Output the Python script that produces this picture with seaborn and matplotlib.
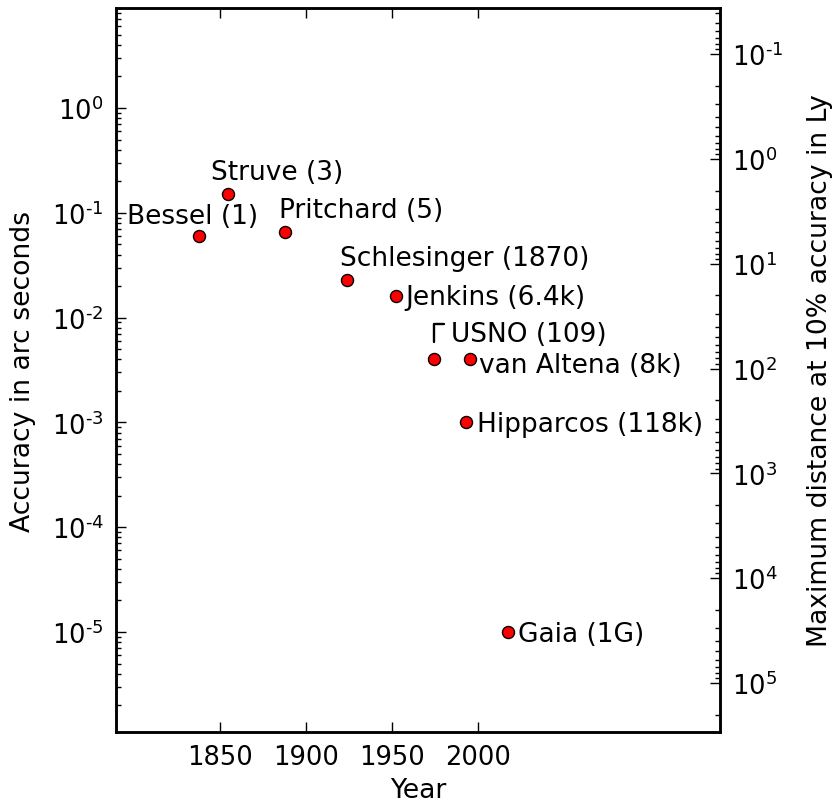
import matplotlib
matplotlib.use("Agg")
import matplotlib.pyplot as plt
import matplotlib.ticker as mticker
import seaborn as sns
import pandas as pd
import numpy as np

# ---- data ----
names = ["Bessel (1)", "Struve (3)", "Pritchard (5)", "Schlesinger (1870)",
         "Jenkins (6.4k)", "USNO (109)", "van Altena (8k)", "Hipparcos (118k)",
         "Gaia (1G)"]
years = [1838, 1855, 1888, 1924, 1952, 1974, 1995, 1993, 2017]
accuracy = [0.06, 0.15, 0.065, 0.023, 0.016, 0.004, 0.004, 0.001, 1e-5]
xticks = [1850, 1900, 1950, 2000]

# ---- layout (label offsets in pixels, text anchored left/baseline) ----
label_offsets = {
    "Bessel (1)": (-72, 13),
    "Struve (3)": (-17, 15),
    "Pritchard (5)": (-6, 15),
    "Schlesinger (1870)": (-7, 15),
    "Jenkins (6.4k)": (10, -8),
    "USNO (109)": (17, 18),
    "van Altena (8k)": (9, -13),
    "Hipparcos (118k)": (11, -9),
    "Gaia (1G)": (10, -9),
}

df = pd.DataFrame({"name": names, "year": years, "acc": accuracy})

sns.set_theme(style="white")
plt.rcParams["font.family"] = ["DejaVu Sans"]
plt.rcParams["axes.unicode_minus"] = False
plt.rcParams["mathtext.default"] = "regular"
for k in ["text.color", "axes.labelcolor", "xtick.color", "ytick.color",
          "axes.edgecolor"]:
    plt.rcParams[k] = "black"

W, H, DPI = 832, 812, 100
fig = plt.figure(figsize=(W / DPI, H / DPI), dpi=DPI)
ax = fig.add_axes([116 / W, 1 - 733 / H, (720 - 116) / W, (733 - 9) / H])

sns.scatterplot(data=df, x="year", y="acc", ax=ax, s=75, color="#ff0000",
                edgecolor="black", linewidth=1.0, zorder=3, legend=False)

ax.set_yscale("log")
ylo, yhi = 1e-5 / 9, 9
ax.set_ylim(ylo, yhi)
ax.set_xlim(1790, 2140)
ax.set_xticks(xticks)
ax.set_xticklabels([str(t) for t in xticks])


def log_fmt(v, pos=None):
    e = int(round(np.log10(v)))
    if e < 0:
        return r"$10^{\text{-}%d}$" % (-e)
    return r"$10^{%d}$" % e


fs_tick = 18.5
fs_lab = 19.2
fs_ann = 19

for sp in ax.spines.values():
    sp.set_linewidth(1.8)
    sp.set_color("black")

ax.tick_params(axis="x", which="both", direction="in", top=True, bottom=True,
               length=7, width=1.0, labelsize=fs_tick, pad=9)
ax.tick_params(axis="y", which="major", direction="in", left=True, right=False,
               length=7, width=1.0, labelsize=fs_tick, pad=9)
ax.tick_params(axis="y", which="minor", direction="in", left=True, right=False,
               length=3.5, width=1.0)
ax.yaxis.set_major_locator(mticker.LogLocator(base=10, numticks=20))
ax.yaxis.set_minor_locator(mticker.LogLocator(base=10, subs=np.arange(2, 10), numticks=20))
ax.yaxis.set_major_formatter(mticker.FuncFormatter(log_fmt))
ax.yaxis.set_minor_formatter(mticker.NullFormatter())
ax.xaxis.set_minor_locator(mticker.NullLocator())
ax.set_xlabel("Year", fontsize=fs_lab, labelpad=5)
ax.set_ylabel("Accuracy in arc seconds", fontsize=fs_lab, labelpad=11)

# right axis: max distance at 10% accuracy in light years
C = 3.26 / 10
ax2 = ax.twinx()
ax2.set_yscale("log")
ax2.set_ylim(C / ylo, C / yhi)
ax2.yaxis.set_major_locator(mticker.LogLocator(base=10, numticks=20))
ax2.yaxis.set_minor_locator(mticker.LogLocator(base=10, subs=np.arange(2, 10), numticks=20))
ax2.yaxis.set_major_formatter(mticker.FuncFormatter(log_fmt))
ax2.yaxis.set_minor_formatter(mticker.NullFormatter())
ax2.tick_params(axis="y", which="major", direction="in", right=True,
                length=7, width=1.0, labelsize=fs_tick, pad=9)
ax2.tick_params(axis="y", which="minor", direction="in", right=True,
                length=3.5, width=1.0)
ax2.set_ylabel("Maximum distance at 10% accuracy in Ly", fontsize=fs_lab,
               labelpad=17)
for sp in ax2.spines.values():
    sp.set_linewidth(1.8)
    sp.set_color("black")

for n, x, y in zip(names, years, accuracy):
    dx, dy = label_offsets[n]
    if n.startswith("USNO"):
        ax.annotate(n, xy=(x, y), xytext=(dx, dy), textcoords="offset pixels",
                    ha="left", va="baseline", fontsize=fs_ann,
                    arrowprops=dict(arrowstyle="-", color="black", lw=1.7,
                                    connectionstyle="angle,angleA=0,angleB=90,rad=0",
                                    relpos=(0, 0.9), shrinkA=2, shrinkB=12.5))
    else:
        ax.annotate(n, xy=(x, y), xytext=(dx, dy), textcoords="offset pixels",
                    ha="left", va="baseline", fontsize=fs_ann)

fig.savefig("out.png", dpi=DPI)
